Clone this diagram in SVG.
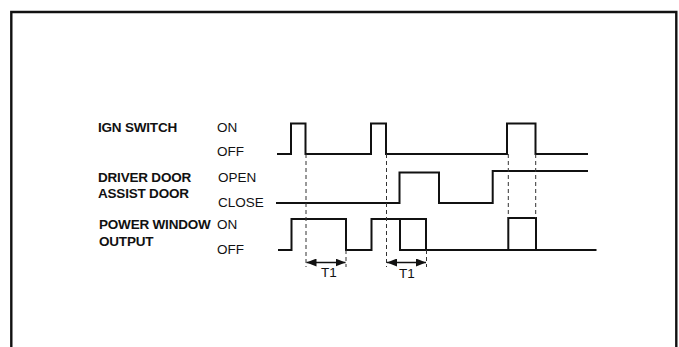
<svg xmlns="http://www.w3.org/2000/svg" width="679" height="347" viewBox="0 0 679 347">
<style>
.lbl{font-family:"Liberation Sans",Arial,sans-serif;font-size:13.5px;font-weight:bold;fill:#111;letter-spacing:-0.2px}
.st{font-family:"Liberation Sans",Arial,sans-serif;font-size:13.5px;fill:#111}
.sig{fill:none;stroke:#111;stroke-width:2;stroke-linejoin:miter}
.dash{fill:none;stroke:#333;stroke-width:1;stroke-dasharray:4,3}
.dim{fill:none;stroke:#111;stroke-width:1.6}
</style>
<defs>
<marker id="ah" viewBox="0 0 10 8" refX="10" refY="4" markerWidth="10" markerHeight="8" markerUnits="userSpaceOnUse" orient="auto-start-reverse">
<path d="M0,0 L10,4 L0,8 Z" fill="#111"/>
</marker>
</defs>
<rect x="0" y="0" width="679" height="347" fill="#fff"/>
<path d="M11.3,360 V12 H676.3 V360" fill="none" stroke="#111" stroke-width="2.4"/>

<g id="labels">
<text class="lbl" x="98" y="132">IGN SWITCH</text>
<text class="lbl" x="98" y="182">DRIVER DOOR</text>
<text class="lbl" x="98" y="198">ASSIST DOOR</text>
<text class="lbl" x="99" y="229">POWER WINDOW</text>
<text class="lbl" x="99" y="246">OUTPUT</text>
</g>
<g id="states">
<text class="st" x="217" y="132">ON</text>
<text class="st" x="217" y="156">OFF</text>
<text class="st" x="218" y="182">OPEN</text>
<text class="st" x="218" y="207">CLOSE</text>
<text class="st" x="217" y="229">ON</text>
<text class="st" x="217" y="254">OFF</text>
</g>

<g id="ign">
<path class="sig" d="M277,154 H291 V123.5 H305.5 V154 H371 V123.5 H386 V154 H507 V123.5 H535.5 V154 H588"/>
</g>
<g id="door">
<path class="sig" d="M276,203 H399.5 V172.5 H439 V203 H492.7 V171 H588"/>
</g>
<g id="pw">
<path class="sig" d="M278,250 H291.5 V219 H346 V250 H371.5 V219 H426 V250"/>
<path class="sig" d="M400,219 V250 H596.5"/>
<path class="sig" d="M508.3,250 V218 H536 V250"/>
</g>

<g id="connectors">
<path class="dash" d="M306,154 V267"/>
<path class="dash" d="M386.5,154 V267"/>
<path class="dash" d="M346,250 V267"/>
<path class="dash" d="M426.5,250 V267"/>
<path class="dash" d="M508.3,154 V218"/>
<path class="dash" d="M535.7,154 V218"/>
<line class="dim" x1="306.5" y1="262.5" x2="345.5" y2="262.5" marker-start="url(#ah)" marker-end="url(#ah)"/>
<line class="dim" x1="387" y1="262.5" x2="426" y2="262.5" marker-start="url(#ah)" marker-end="url(#ah)"/>
</g>
<g id="t1">
<text class="st" x="329" y="277" text-anchor="middle">T1</text>
<text class="st" x="407" y="278" text-anchor="middle">T1</text>
</g>
</svg>
